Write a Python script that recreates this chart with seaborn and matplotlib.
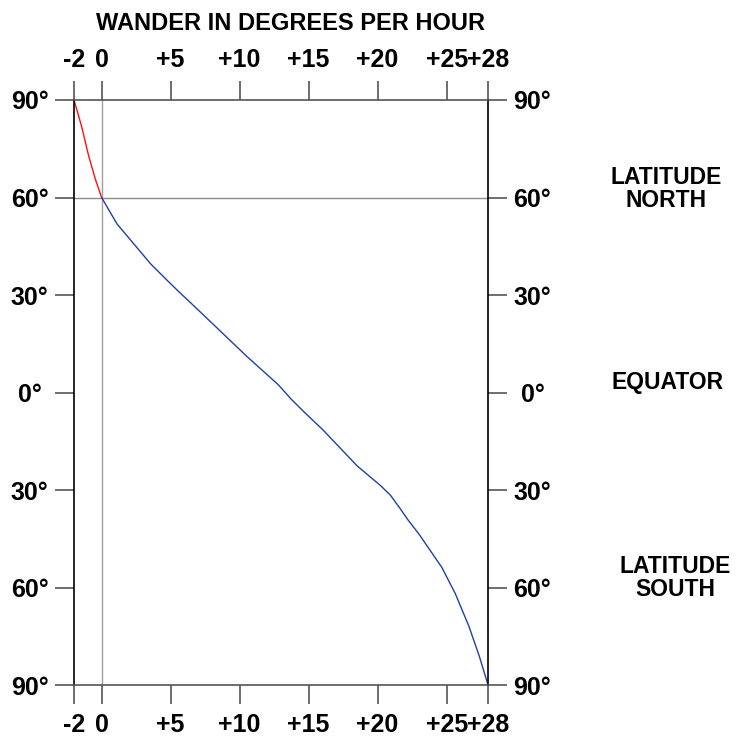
import matplotlib
matplotlib.use('Agg')
import matplotlib.pyplot as plt
import seaborn as sns
import pandas as pd

sns.set_style('white')
plt.rcParams['font.family'] = ['Liberation Sans', 'DejaVu Sans']
plt.rcParams['font.weight'] = 'bold'
plt.rcParams['text.color'] = 'black'

# 读取图中曲线的数值 (漂移量, 纬度)
north_wander = [-2.0, -1.45, -0.95, -0.45, 0.0]
north_lat = [90.0, 81.9, 73.0, 65.6, 60.0]
south_wander = [0.0, 1.11, 2.34, 3.57, 4.8, 5.55, 6.18, 8.06, 10.55, 12.8, 13.75, 14.7,
                16.06, 18.52, 20.2, 20.93, 21.63, 22.2, 23.02, 24.65, 25.63, 26.63, 27.38, 28.0]
south_lat = [60.0, 51.9, 45.7, 39.5, 34.3, 31.2, 28.7, 21.1, 11.0, 2.4, -2.1, -6.1,
             -11.6, -22.6, -28.6, -31.6, -35.7, -39.2, -43.7, -53.8, -61.9, -72.1, -81.3, -90.0]

x_ticks = [-2, 0, 5, 10, 15, 20, 25, 28]
x_labels = ['-2', '0', '+5', '+10', '+15', '+20', '+25', '+28']
y_ticks = [90, 60, 30, 0, -30, -60, -90]
y_labels = ['90°', '60°', '30°', '0°', '30°', '60°', '90°']

red_df = pd.DataFrame({'wander': north_wander, 'lat': north_lat})
blue_df = pd.DataFrame({'wander': south_wander, 'lat': south_lat})

fig = plt.figure(figsize=(7.4, 7.38), dpi=100)
ax = fig.add_axes([0.1, 0.0718, 0.5595, 0.7927])

# 参考线
ax.axvline(0, color='#a0a0a0', lw=1, zorder=1)
ax.axhline(60, color='#8a8a8a', lw=1, zorder=1)

sns.lineplot(x='wander', y='lat', data=red_df, sort=False, color='#ff1010', lw=1, ax=ax)
sns.lineplot(x='wander', y='lat', data=blue_df, sort=False, color='#2040a8', lw=1, ax=ax)

ax.set_xlim(-2, 28)
ax.set_ylim(-90, 90)
ax.set_xticks(x_ticks)
ax.set_xticklabels(x_labels)
ax.set_yticks(y_ticks)
ax.set_yticklabels(y_labels)
ax.set_xlabel('')
ax.set_ylabel('')

ax.tick_params(axis='x', top=True, bottom=True, labeltop=True, labelbottom=True,
               length=14, width=1.2, color='#555555', labelcolor='black', pad=6, labelsize=18)
ax.tick_params(axis='y', left=True, right=True, labelleft=True, labelright=True,
               length=14, width=1.2, color='#555555', labelcolor='black', pad=18, labelsize=18)
for t in ax.yaxis.get_major_ticks():
    t.label1.set_horizontalalignment('center')
    t.label2.set_horizontalalignment('center')

for side in ['left', 'right']:
    ax.spines[side].set_color('black')
    ax.spines[side].set_linewidth(1.2)
for side in ['top', 'bottom']:
    ax.spines[side].set_color('#555555')
    ax.spines[side].set_linewidth(1.2)

fig.text(290 / 740, 1 - 23 / 738, 'WANDER IN DEGREES PER HOUR', ha='center', va='center', fontsize=17, color='black')
fig.text(666 / 740, 1 - 189 / 738, 'LATITUDE\nNORTH', ha='center', va='center', fontsize=16.5, linespacing=1.05, color='black')
fig.text(668 / 740, 1 - 383 / 738, 'EQUATOR', ha='center', va='center', fontsize=16.5, color='black')
fig.text(675 / 740, 1 - 578 / 738, 'LATITUDE\nSOUTH', ha='center', va='center', fontsize=16.5, linespacing=1.05, color='black')

fig.savefig('out.png', dpi=100)
